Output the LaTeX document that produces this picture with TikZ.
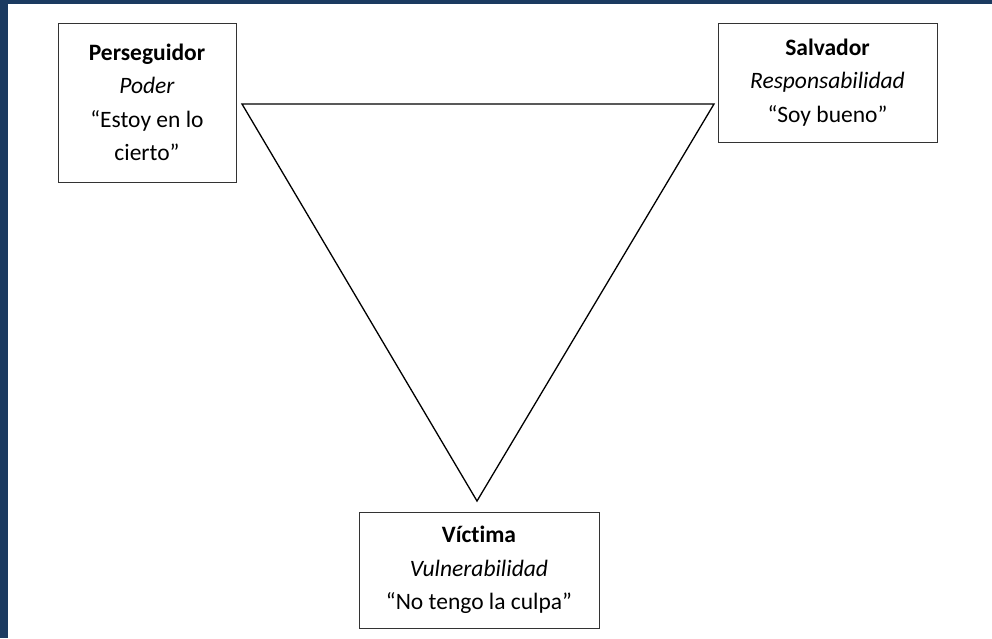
\documentclass[tikz,border=0pt]{standalone}
\usepackage{fontspec}
\setmainfont[Ligatures=NoCommon]{Carlito}
\definecolor{frameblue}{HTML}{1B3A60}
\definecolor{boxline}{HTML}{333333}
\begin{document}
\begin{tikzpicture}[x=1pt,y=-1pt,
  rolebox/.style={draw=boxline,line width=1pt,fill=white,align=center,inner sep=0pt,
    font=\fontsize{23.5}{33.5}\selectfont},
  triline/.style={draw=black,line width=1.3pt,line join=miter}]
  \useasboundingbox (0,0) rectangle (992,638);
  \fill[frameblue] (0,0) rectangle (992,638);
  \fill[white] (8,4) rectangle (992,638);
  % triangle
  \coordinate (tl) at (242,104);
  \coordinate (tr) at (714,104);
  \coordinate (bt) at (477,501);
  \draw[triline] (tl) -- (tr) -- (bt) -- cycle;
  % boxes
  \node[rolebox,minimum width=178pt,minimum height=159pt] (pers) at (147,102.5)
    {\textbf{Perseguidor}\\\textit{Poder}\\“Estoy en lo\\cierto”};
  \node[rolebox,minimum width=219pt,minimum height=119pt] (salv) at (827.5,82.5)
    {\textbf{Salvador}\\\textit{Responsabilidad}\\“Soy bueno”};
  \node[rolebox,minimum width=240pt,minimum height=116pt] (vict) at (479,570)
    {\textbf{Víctima}\\\textit{Vulnerabilidad}\\“No tengo la culpa”};
\end{tikzpicture}
\end{document}
